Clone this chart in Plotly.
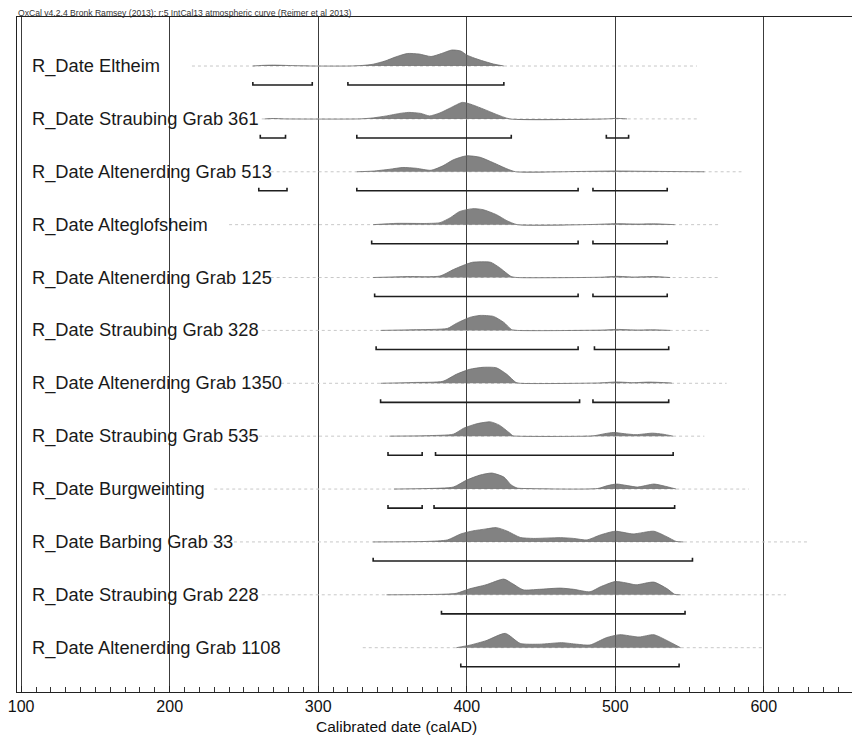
import plotly.graph_objects as go

# ---------------- data ----------------
labels = [
    "R_Date Eltheim",
    "R_Date Straubing Grab 361",
    "R_Date Altenerding Grab 513",
    "R_Date Alteglofsheim",
    "R_Date Altenerding Grab 125",
    "R_Date Straubing Grab 328",
    "R_Date Altenerding Grab 1350",
    "R_Date Straubing Grab 535",
    "R_Date Burgweinting",
    "R_Date Barbing Grab 33",
    "R_Date Straubing Grab 228",
    "R_Date Altenerding Grab 1108",
]

# probability distributions (calAD year, relative probability)
dist_years = [
    [256, 262, 270, 278, 288, 297, 321, 330, 337, 345, 352, 360, 368, 376, 383, 390, 396, 400, 405, 410, 418, 425],
    [264, 270, 277, 328, 337, 346, 355, 361, 369, 375, 382, 389, 397, 402, 411, 420, 429, 494, 501, 508],
    [326, 337, 348, 357, 366, 376, 384, 391, 400, 409, 418, 427, 433, 475, 500, 520, 535, 560],
    [337, 353, 373, 382, 389, 395, 404, 411, 420, 427, 434, 485, 500, 515, 527, 540],
    [337, 360, 382, 391, 400, 404, 416, 422, 430, 434, 490, 501, 512, 526, 537],
    [342, 364, 387, 393, 402, 409, 418, 425, 430, 434, 490, 501, 515, 526, 537],
    [342, 364, 384, 393, 402, 411, 420, 427, 433, 436, 488, 501, 512, 523, 538],
    [348, 373, 391, 398, 407, 416, 422, 429, 431, 434, 485, 493, 499, 506, 514, 525, 532, 539],
    [351, 373, 391, 400, 409, 417, 425, 430, 434, 440, 488, 495, 501, 508, 515, 526, 533, 541],
    [337, 373, 387, 396, 404, 413, 420, 427, 436, 445, 463, 472, 481, 490, 500, 512, 526, 535, 541, 546],
    [346, 382, 393, 402, 413, 425, 431, 438, 449, 463, 472, 483, 490, 500, 507, 514, 526, 535, 540, 544],
    [393, 402, 413, 426, 436, 449, 464, 474, 483, 494, 503, 516, 526, 535, 544],
]
dist_probs = [
    [0, 0.6, 0.9, 0.6, 0.2, 0, 0, 0.6, 1.8, 5, 9, 12.5, 12, 9.5, 12.5, 16, 15, 11, 8, 5.5, 2, 0],
    [0, 0.4, 0, 0, 1, 3, 5.5, 6.5, 5.5, 3, 6, 11, 16.5, 15, 10, 4.5, 0, 0, 0.5, 0],
    [0, 0.7, 2.5, 4.3, 3.5, 1.5, 6, 12, 16, 14.5, 9, 3, 0, 0.3, 0.8, 0.5, 0.3, 0],
    [0, 1.3, 1.2, 2, 7, 13, 16, 15, 10, 4, 0, 0.2, 1, 0.6, 0.8, 0],
    [0, 1, 1.5, 8, 13.5, 15.3, 15.3, 10, 1, 0, 0.3, 1.2, 0.5, 1, 0],
    [0, 0.7, 2, 7, 13, 15, 14, 8, 1, 0, 0.3, 1, 0.4, 0.6, 0],
    [0, 0.8, 2, 9, 14, 16, 15.5, 9, 1, 0, 0.3, 1.3, 0.6, 1.2, 0.3],
    [0, 0.5, 2, 8, 12.5, 14.3, 11, 3, 0.5, 0, 0.3, 2.5, 3.7, 2.5, 1.5, 3, 2, 0],
    [0, 0.5, 2, 9, 14, 16, 12, 4, 1, 0.5, 0.5, 3.5, 5, 3.5, 2, 5, 3, 0],
    [0, 0.5, 2, 8, 11, 13, 14.3, 11, 4.5, 3.5, 4.3, 3.5, 2, 7, 10.7, 8, 10.7, 5, 0.5, 0],
    [0, 0.5, 1.5, 6, 10, 15.7, 11, 5, 5.5, 6.7, 5.5, 3, 8, 13.3, 12, 10, 12.7, 6, 0.5, 0],
    [0, 2.5, 7, 14.3, 4.3, 3.5, 5, 3.5, 2.7, 10, 13, 10.7, 13, 7, 0],
]

# highest posterior density ranges (start, end) in calAD
range_starts = [
    [256, 320], [261, 326, 494], [260, 326, 485], [336, 485], [338, 485], [339, 486],
    [342, 485], [347, 379], [347, 378], [337], [383], [396],
]
range_ends = [
    [296, 425], [278, 430, 509], [279, 475, 535], [475, 535], [475, 535], [475, 536],
    [476, 536], [370, 539], [370, 540], [552], [547], [543],
]

# extent of the faint baseline of each row
base_start = [215, 262, 268, 240, 268, 262, 275, 240, 230, 215, 262, 330]
base_end = [555, 555, 585, 570, 570, 565, 575, 560, 590, 630, 615, 600]

x_ticks = [100, 200, 300, 400, 500, 600]
header = "OxCal v4.2.4 Bronk Ramsey (2013); r:5 IntCal13 atmospheric curve (Reimer et al 2013)"
x_title = "Calibrated date (calAD)"

# ---------------- styling ----------------
FONT = "Liberation Sans, Arial, sans-serif"
PROB_SCALE = 1 / 52.9      # probability units -> row units
BRACKET_OFF = 0.36
BRACKET_TICK = 0.06

fig = go.Figure()

for i in range(len(labels)):
    # faint baseline
    fig.add_trace(go.Scatter(
        x=[base_start[i], base_end[i]], y=[i, i], mode="lines",
        line=dict(color="#c8c8c8", width=1, dash="dot"),
        hoverinfo="skip", showlegend=False))
    # baseline used for filling
    xs = dist_years[i]
    fig.add_trace(go.Scatter(
        x=[xs[0], xs[-1]], y=[i, i], mode="lines",
        line=dict(color="rgba(0,0,0,0)", width=0),
        hoverinfo="skip", showlegend=False))
    fig.add_trace(go.Scatter(
        x=xs, y=[i - p * PROB_SCALE for p in dist_probs[i]],
        mode="lines", line=dict(color="#6c6c6c", width=0.8, shape="spline", smoothing=0.6),
        fill="tonexty", fillcolor="rgba(95,95,95,0.78)",
        hoverinfo="skip", showlegend=False))
    # range brackets
    for s, e in zip(range_starts[i], range_ends[i]):
        yb = i + BRACKET_OFF
        fig.add_trace(go.Scatter(
            x=[s, s, e, e], y=[yb - BRACKET_TICK, yb, yb, yb - BRACKET_TICK],
            mode="lines", line=dict(color="#1e1e1e", width=1.6),
            hoverinfo="skip", showlegend=False))
    # label
    fig.add_annotation(
        x=106, y=i, xref="x", yref="y", text=labels[i], showarrow=False,
        xanchor="left", yanchor="middle",
        font=dict(family=FONT, size=18.3, color="#1a1a1a"))

fig.add_annotation(
    x=0, y=1, xref="paper", yref="paper", text=header, showarrow=False,
    xanchor="left", yanchor="bottom", yshift=-2, borderpad=0,
    font=dict(family=FONT, size=8.6, color="#333"))

fig.add_annotation(
    x=353, y=0, xref="x", yref="paper", text=x_title, showarrow=False,
    xanchor="center", yanchor="middle", yshift=-34,
    font=dict(family=FONT, size=15.5, color="#111"))

fig.update_layout(
    width=852, height=729,
    margin=dict(l=9, r=0, t=9, b=45, autoexpand=False),
    paper_bgcolor="white", plot_bgcolor="white",
    showlegend=False,
    xaxis=dict(
        range=[97.2, 664.8], tickvals=x_ticks, ticktext=[str(v) for v in x_ticks],
        ticks="inside", ticklen=6, tickcolor="#222",
        minor=dict(dtick=10, ticks="inside", ticklen=5, tickcolor="#333", showgrid=False),
        showgrid=True, gridcolor="#3c3c3c", gridwidth=1,
        showline=True, mirror=True, linecolor="#222", linewidth=1.2,
        zeroline=False, automargin=False,
        ticklabeloverflow="allow",
        tickfont=dict(family=FONT, size=16, color="#111"),
    ),
    yaxis=dict(
        range=[11.838, -0.927], showgrid=False, zeroline=False,
        showticklabels=False, ticks="", automargin=False,
        showline=True, linecolor="#222", linewidth=1.2, mirror=False,
    ),
)

fig.write_html("out.html")
